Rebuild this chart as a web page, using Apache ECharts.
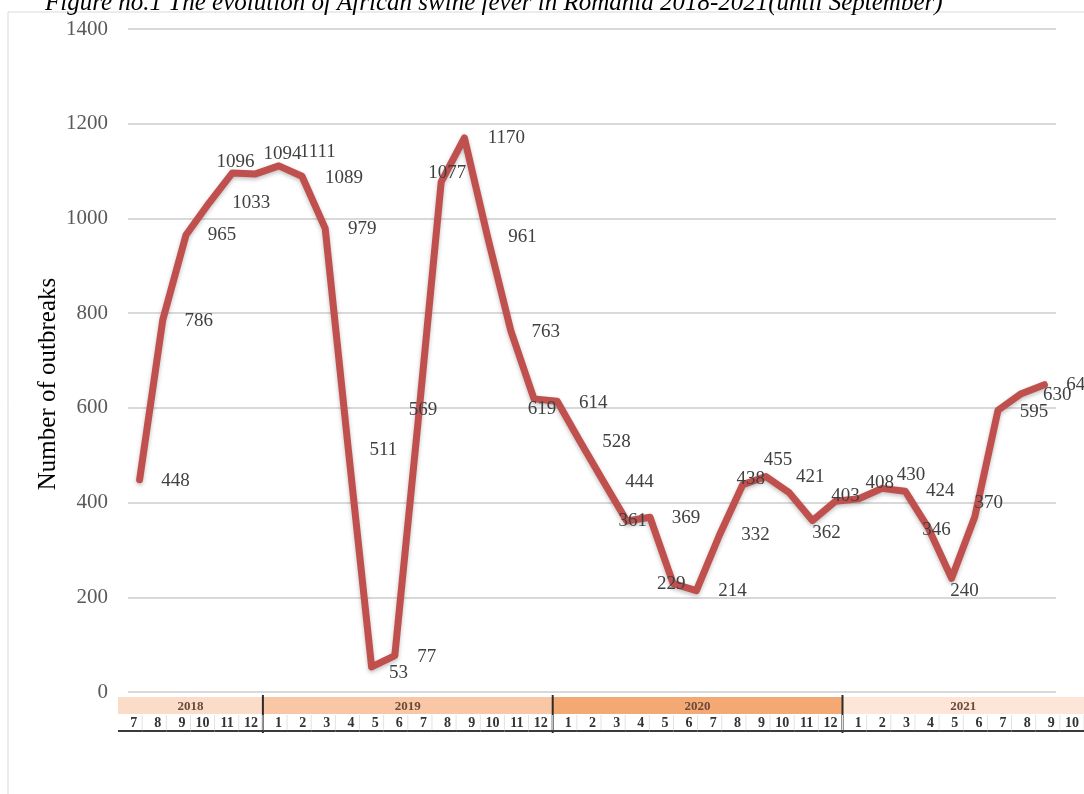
<!DOCTYPE html>
<html>
<head>
<meta charset="utf-8">
<script src="https://cdn.jsdelivr.net/npm/echarts/dist/echarts.min.js"></script>
<style>
html, body { margin: 0; padding: 0; background: #fff; }
#mychart { width: 1084px; height: 794px; }
</style>
</head>
<body>
<div id="mychart"></div>
<script>
"use strict";
// months 2018-7 .. 2021-10
const monthLabels = ['7', '8', '9', '10', '11', '12',
    '1', '2', '3', '4', '5', '6', '7', '8', '9', '10', '11', '12',
    '1', '2', '3', '4', '5', '6', '7', '8', '9', '10', '11', '12',
    '1', '2', '3', '4', '5', '6', '7', '8', '9', '10'];
const outbreaks = [448, 786, 965, 1033, 1096, 1094,
    1111, 1089, 979, 511, 53, 77, 569, 1077, 1170, 961, 763, 619,
    614, 528, 444, 361, 369, 229, 214, 332, 438, 455, 421, 362,
    403, 408, 430, 424, 346, 240, 370, 595, 630, 649];
const yearLabels = ['2018', '2019', '2020', '2021'];
const yearStart = [0, 6, 18, 30];
const yearEnd = [6, 18, 30, 40];
const yTicks = { min: 0, max: 1400, interval: 200 };

// where Excel put each value label, relative to the point
const labelOffsets = [[36, 1], [36, 1], [36, 0], [42, 0], [3, -11], [27, -20],
    [39, -14], [42, 2], [37, 1], [35, 0], [27, 6], [32, 1], [5, -13], [6, -9],
    [42, 0], [35, 0], [35, 1], [8, 10], [36, 2], [36, 0], [36, 0], [6, 0],
    [36, 1], [-2, 0], [36, 0], [36, 0], [8, -6], [12, -17], [21, -16], [14, 12],
    [10, -5], [21, -16], [29, -13], [35, 0], [8, 2], [13, 13], [14, -14],
    [36, 2], [36, 1], [36, 0]];
const yearColors = ['#fbdcc8', '#f9c7a5', '#f4a874', '#fde5d7'];

const serif = '"Liberation Serif", "DejaVu Serif", serif';
const container = document.getElementById('mychart');
const myChart = echarts.init(container);

function renderYear(params, api) {
    const i = params.dataIndex;
    const p0 = api.coord([api.value(0), 2]);
    const p1 = api.coord([api.value(1), 1]);
    const b0 = api.coord([api.value(0), 0]);
    const children = [{
        type: 'rect',
        shape: { x: p0[0], y: p0[1], width: p1[0] - p0[0], height: p1[1] - p0[1] },
        style: { fill: yearColors[i] }
    }, {
        type: 'text',
        style: {
            x: (p0[0] + p1[0]) / 2, y: (p0[1] + p1[1]) / 2 + 1,
            text: yearLabels[i], align: 'center', verticalAlign: 'middle',
            font: 'bold 13px ' + serif, fill: '#6a4a3c'
        }
    }];
    if (i > 0) {
        children.push({
            type: 'line',
            shape: { x1: p0[0], y1: p0[1] - 2, x2: p0[0], y2: b0[1] + 2 },
            style: { stroke: '#2b2b2b', lineWidth: 2 }
        });
    }
    return { type: 'group', children };
}

function renderMonth(params, api) {
    const i = params.dataIndex;
    const p = api.coord([api.value(0), 1]);
    const q = api.coord([api.value(0) + 1, 0]);
    return {
        type: 'group',
        children: [{
            type: 'line',
            shape: { x1: q[0], y1: p[1] + 1, x2: q[0], y2: q[1] - 1 },
            style: { stroke: '#e2e2e2', lineWidth: 1 }
        }, {
            type: 'line',
            shape: { x1: p[0], y1: q[1], x2: q[0], y2: q[1] },
            style: { stroke: '#3a3a3a', lineWidth: 2 }
        }, {
            type: 'text',
            style: {
                x: q[0] - 5, y: (p[1] + q[1]) / 2 + 1,
                text: monthLabels[i], align: 'right', verticalAlign: 'middle',
                font: 'bold 14px ' + serif, fill: '#333'
            }
        }]
    };
}

const option = {
    backgroundColor: '#fff',
    animation: false,
    title: {
        text: 'Figure no.1 The evolution of African swine fever in Romania 2018-2021(until September)',
        left: 40,
        top: -14,
        textStyle: { fontFamily: serif, fontStyle: 'italic', fontWeight: 'normal', fontSize: 25, color: '#000' }
    },
    graphic: [{
        type: 'polyline',
        shape: { points: [[8, 800], [8, 12], [1100, 12]] },
        style: { stroke: '#d9d9d9', lineWidth: 1, fill: null },
        z: -1
    }, {
        type: 'text',
        x: 48,
        y: 384,
        rotation: Math.PI / 2,
        style: {
            text: 'Number of outbreaks',
            align: 'center',
            verticalAlign: 'middle',
            font: '25px ' + serif,
            fill: '#000'
        }
    }],
    grid: [
        { left: 128, right: 28, top: 29, bottom: 102 },
        { left: 118, right: -4, top: 697, height: 34 }
    ],
    xAxis: [{
        type: 'category',
        data: monthLabels.map((m, i) => i + ':' + m),
        boundaryGap: true,
        axisLine: { show: false },
        axisTick: { show: false },
        axisLabel: { show: false }
    }, {
        type: 'value',
        gridIndex: 1,
        min: 0,
        max: 40,
        show: false
    }],
    yAxis: [{
        type: 'value',
        min: yTicks.min,
        max: yTicks.max,
        interval: yTicks.interval,
        axisLine: { show: false },
        axisTick: { show: false },
        axisLabel: {
            margin: 20, fontFamily: serif, fontSize: 21, color: '#595959',
            formatter: v => String(v)
        },
        splitLine: { lineStyle: { color: '#d9d9d9', width: 2 } }
    }, {
        type: 'value',
        gridIndex: 1,
        min: 0,
        max: 2,
        show: false
    }],
    series: [{
        type: 'line',
        data: outbreaks.map((v, i) => ({
            value: v,
            label: { offset: labelOffsets[i] }
        })),
        symbol: 'circle',
        symbolSize: 1,
        showSymbol: true,
        itemStyle: { color: '#c0504d' },
        lineStyle: {
            color: '#c0504d', width: 7, join: 'round', cap: 'round',
            shadowColor: 'rgba(0,0,0,0.25)', shadowBlur: 4, shadowOffsetY: 2
        },
        label: {
            show: true,
            position: 'inside',
            fontFamily: serif,
            fontSize: 19,
            color: '#404040'
        },
        z: 3
    }, {
        type: 'custom',
        xAxisIndex: 1,
        yAxisIndex: 1,
        renderItem: renderYear,
        data: yearStart.map((s, i) => [s, yearEnd[i]])
    }, {
        type: 'custom',
        xAxisIndex: 1,
        yAxisIndex: 1,
        renderItem: renderMonth,
        data: monthLabels.map((m, i) => [i, 0])
    }]
};
myChart.setOption(option);
</script>
</body>
</html>
